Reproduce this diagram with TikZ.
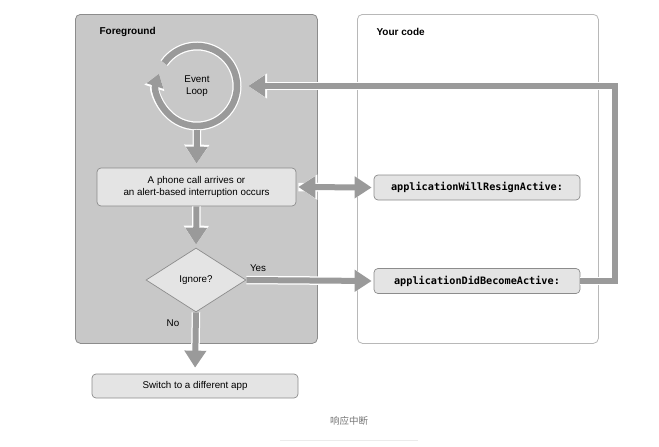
\documentclass[tikz,border=0pt]{standalone}
\usepackage{fontspec}
\setmainfont{Liberation Sans}
\newfontfamily\codefont{DejaVu Sans Mono}
\newfontfamily\cjk{Noto Sans CJK SC}
\usetikzlibrary{arrows.meta,shapes.geometric}
\definecolor{panelgray}{HTML}{C8C8C8}
\definecolor{boxgray}{HTML}{E4E4E4}
\definecolor{edgegray}{HTML}{8C8C8C}
\definecolor{flowgray}{HTML}{9A9A9A}

\begin{document}
\begin{tikzpicture}[x=1pt, y=-1pt,
    panel/.style={draw=edgegray, rounded corners=5pt, line width=0.8pt, anchor=north west, inner sep=0pt},
    box/.style={draw=edgegray, fill=boxgray, rounded corners=4pt, line width=0.7pt, align=center, inner sep=0pt, font=\fontsize{9.8}{12}\selectfont},
    codebox/.style={box, minimum width=206pt, minimum height=25pt, font=\codefont\bfseries\fontsize{10.2}{12}\selectfont},
    flow/.style={draw=flowgray, line width=6pt, -{Triangle[width=21pt,length=17pt]},
        preaction={draw=white, line width=8.5pt, -{Triangle[width=24pt,length=19pt]}}},
    twoway/.style={flow, {Triangle[width=21pt,length=17pt]}-{Triangle[width=21pt,length=17pt]},
        preaction={draw=white, line width=8.5pt, {Triangle[width=24pt,length=19pt]}-{Triangle[width=24pt,length=19pt]}}},
    ring/.style={draw=flowgray, line width=6.5pt, -{Triangle[width=17pt,length=13pt]},
        preaction={draw=white, line width=9pt, -{Triangle[width=20pt,length=15pt]}}},
    heading/.style={anchor=west, font=\bfseries\fontsize{10}{12}\selectfont},
    small/.style={font=\fontsize{9.8}{12}\selectfont}]
    \useasboundingbox (0,0) rectangle (659,447);
    % the two panels
    \node[panel, fill=panelgray, minimum width=242pt, minimum height=329pt] (fg) at (75,14) {};
    \node[panel, draw=black!28, fill=white, minimum width=241pt, minimum height=329pt] (code) at (357,14) {};
    \node[heading] (fgtitle) at (96,32) {Foreground};
    \node[heading] (codetitle) at (373,32) {Your code};
    % event loop
    \node[circle, minimum size=88pt, inner sep=0pt, align=center, small] (loop) at (197,86) {Event\\Loop};
    \draw[ring] ([shift={(145:40pt)}]loop.center) arc[start angle=145, end angle=-198, radius=40pt];
    % steps
    \node[box, minimum width=199pt, minimum height=38pt] (call) at (196.5,187) {A phone call arrives or\\an alert-based interruption occurs};
    \node[diamond, draw=edgegray, fill=boxgray, line width=0.7pt, minimum width=100pt, minimum height=64pt, inner sep=0pt, small] (ignore) at (196,280) {Ignore?};
    \node[box, minimum width=206pt, minimum height=24pt] (switch) at (195,386) {Switch to a different app};
    \node[codebox] (resign) at (477,187.5) {applicationWillResignActive:};
    \node[codebox] (become) at (477,281) {applicationDidBecomeActive:};
    % arrows
    \draw[flow, shorten >=4pt] (loop.south) -- (call.north);
    \draw[flow, shorten >=3pt] (call.south) -- (ignore.north);
    \draw[flow, shorten >=6pt] (ignore.south) -- (switch.north);
    \draw[twoway, shorten <=2pt, shorten >=2pt] (call.east) -- (resign.west);
    \draw[flow, shorten >=2pt] (ignore.east) -- (become.west);
    \draw[flow, shorten >=7pt] (become.east) -- ++(35,0) |- (loop.east);
    \node[small] (yes) at (258,268) {Yes};
    \node[small] (no) at (173,323) {No};
    % caption
    \node[font=\cjk\fontsize{9.5}{11}\selectfont, text=black!55] (caption) at (349,421) {响应中断};
    \draw[black!8, line width=0.8pt] (280,440) -- (418,440);
\end{tikzpicture}
\end{document}
